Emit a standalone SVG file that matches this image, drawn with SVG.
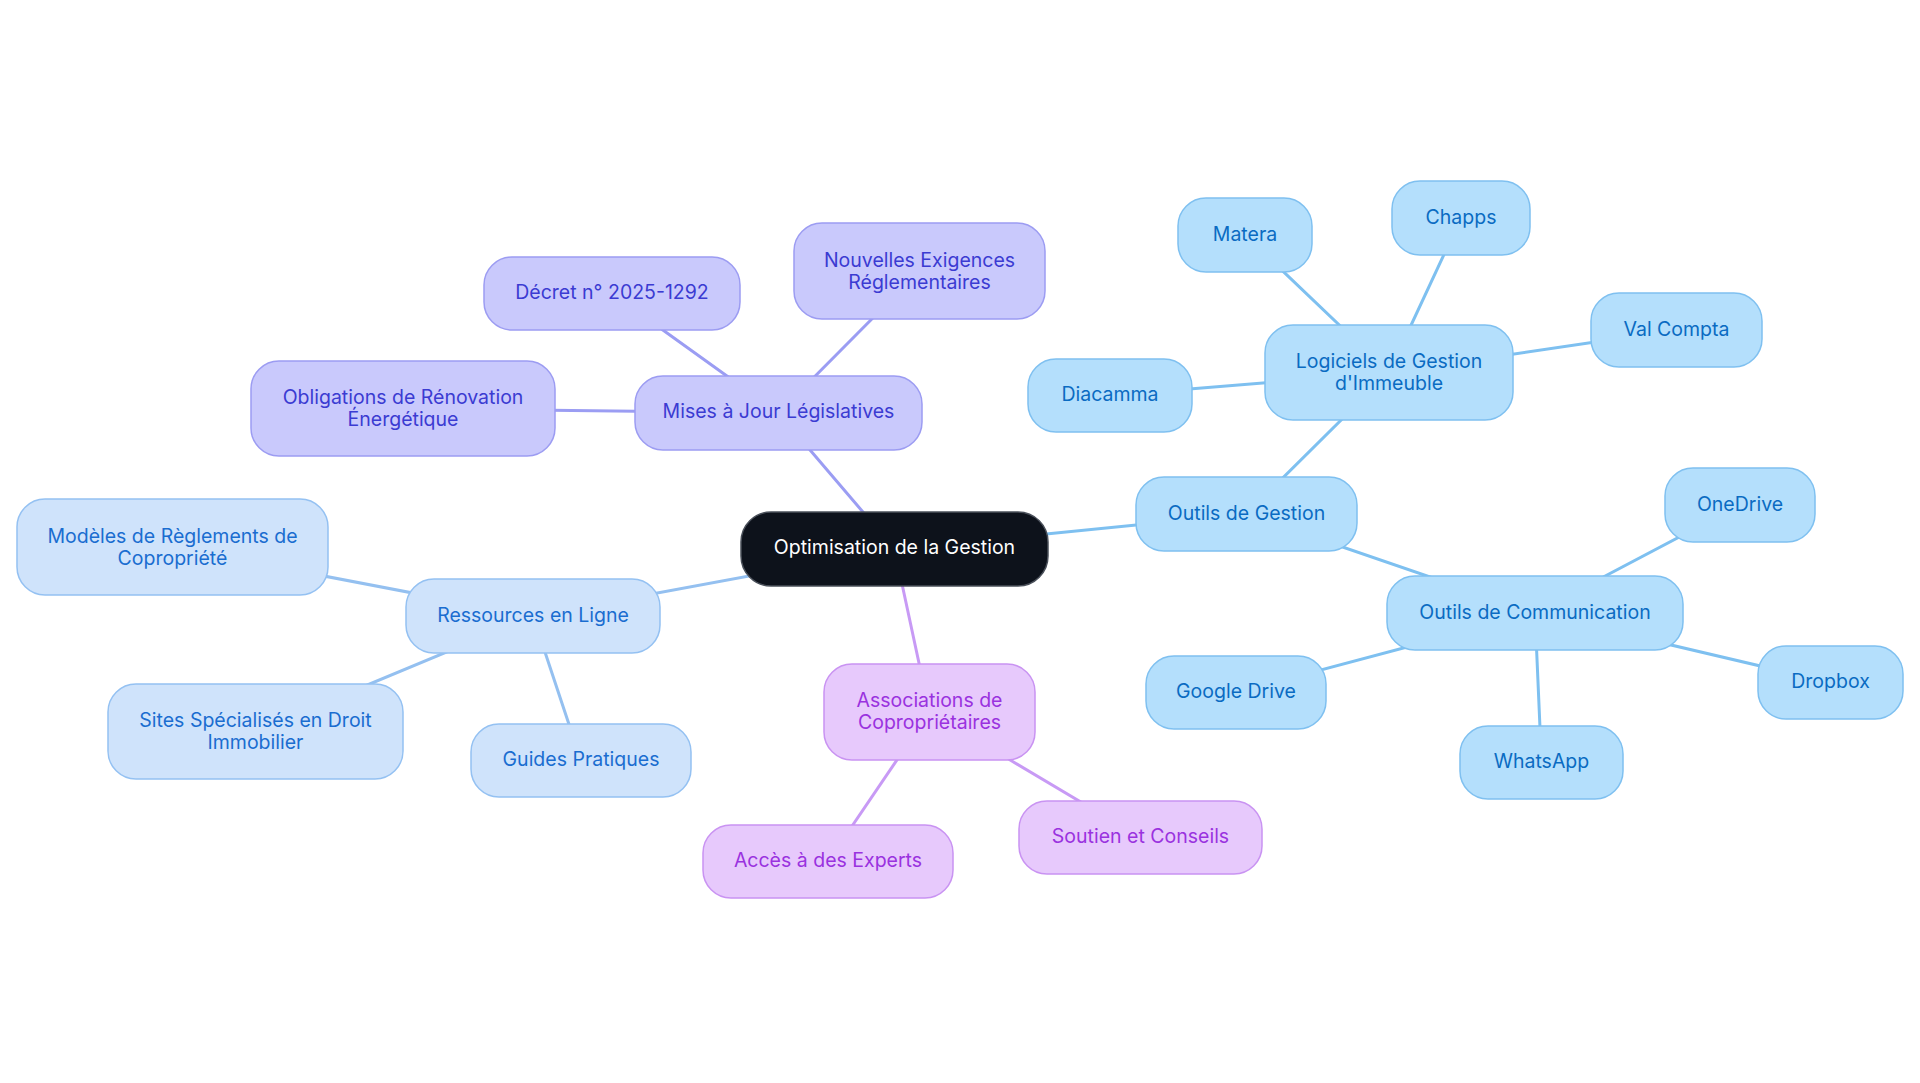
<svg xmlns="http://www.w3.org/2000/svg" width="1920" height="1083" viewBox="0 0 1920 1083">
<style>
text{font-family:Inter,"Noto Sans","Liberation Sans",sans-serif;font-size:19.5px;text-anchor:middle}
.c{fill:none;stroke-width:3;stroke-linecap:round}
.ci{stroke:#9b9df3}.cr{stroke:#94c0f0}.ca{stroke:#c89af5}.co{stroke:#7ec0f0}
rect{stroke-width:1.5}
.ni rect{fill:#c9c9fc;stroke:#9c9cf2}.ni text{fill:#3b3bd2}
.nr rect{fill:#cfe3fb;stroke:#94c1f2}.nr text{fill:#1a6dd0}
.na rect{fill:#e7c9fc;stroke:#c993f2}.na text{fill:#9a32df}
.no rect{fill:#b4dffc;stroke:#7fc0f0}.no text{fill:#0a6bc2}
.nc rect{fill:#0d121b;stroke:#4a505a}.nc text{fill:#ffffff}
</style>
<rect x="0" y="0" width="1920" height="1083" fill="#ffffff" stroke="none"/>
<g id="connectors">
<line class="c ci" x1="894.5" y1="549" x2="778.5" y2="413"/>
<line class="c ci" x1="778.5" y1="413" x2="612" y2="293.5"/>
<line class="c ci" x1="778.5" y1="413" x2="919.5" y2="271"/>
<line class="c ci" x1="778.5" y1="413" x2="403" y2="408.5"/>
<line class="c cr" x1="894.5" y1="549" x2="533" y2="616"/>
<line class="c cr" x1="533" y1="616" x2="172.5" y2="547"/>
<line class="c cr" x1="533" y1="616" x2="255.5" y2="731.5"/>
<line class="c cr" x1="533" y1="616" x2="581" y2="760.5"/>
<line class="c ca" x1="894.5" y1="549" x2="929.5" y2="712"/>
<line class="c ca" x1="929.5" y1="712" x2="828" y2="861.5"/>
<line class="c ca" x1="929.5" y1="712" x2="1140.5" y2="837.5"/>
<line class="c co" x1="894.5" y1="549" x2="1246.5" y2="514"/>
<line class="c co" x1="1246.5" y1="514" x2="1389" y2="372.5"/>
<line class="c co" x1="1389" y1="372.5" x2="1245" y2="235"/>
<line class="c co" x1="1389" y1="372.5" x2="1461" y2="218"/>
<line class="c co" x1="1389" y1="372.5" x2="1676.5" y2="330"/>
<line class="c co" x1="1389" y1="372.5" x2="1110" y2="395.5"/>
<line class="c co" x1="1246.5" y1="514" x2="1535" y2="613"/>
<line class="c co" x1="1535" y1="613" x2="1740" y2="505"/>
<line class="c co" x1="1535" y1="613" x2="1830.5" y2="682.5"/>
<line class="c co" x1="1535" y1="613" x2="1541.5" y2="762.5"/>
<line class="c co" x1="1535" y1="613" x2="1236" y2="692.5"/>
</g>
<g id="n-center" class="nc"><rect x="741" y="512" width="307" height="74" rx="30"/><text x="894.5" y="554">Optimisation de la Gestion</text></g>
<g id="n-mises" class="ni"><rect x="635" y="376" width="287" height="74" rx="28"/><text x="778.5" y="418">Mises à Jour Législatives</text></g>
<g id="n-decret" class="ni"><rect x="484" y="257" width="256" height="73" rx="28"/><text x="612" y="299">Décret n° 2025-1292</text></g>
<g id="n-nouvelles" class="ni"><rect x="794" y="223" width="251" height="96" rx="28"/><text x="919.5" y="266.5">Nouvelles Exigences</text><text x="919.5" y="288.5">Réglementaires</text></g>
<g id="n-obligations" class="ni"><rect x="251" y="361" width="304" height="95" rx="28"/><text x="403" y="404">Obligations de Rénovation</text><text x="403" y="426">Énergétique</text></g>
<g id="n-ressources" class="nr"><rect x="406" y="579" width="254" height="74" rx="28"/><text x="533" y="621.5">Ressources en Ligne</text></g>
<g id="n-modeles" class="nr"><rect x="17" y="499" width="311" height="96" rx="28"/><text x="172.5" y="542.5">Modèles de Règlements de</text><text x="172.5" y="564.5">Copropriété</text></g>
<g id="n-sites" class="nr"><rect x="108" y="684" width="295" height="95" rx="28"/><text x="255.5" y="727">Sites Spécialisés en Droit</text><text x="255.5" y="749">Immobilier</text></g>
<g id="n-guides" class="nr"><rect x="471" y="724" width="220" height="73" rx="28"/><text x="581" y="766">Guides Pratiques</text></g>
<g id="n-associations" class="na"><rect x="824" y="664" width="211" height="96" rx="28"/><text x="929.5" y="707">Associations de</text><text x="929.5" y="729">Copropriétaires</text></g>
<g id="n-acces" class="na"><rect x="703" y="825" width="250" height="73" rx="28"/><text x="828" y="867">Accès à des Experts</text></g>
<g id="n-soutien" class="na"><rect x="1019" y="801" width="243" height="73" rx="28"/><text x="1140.5" y="843">Soutien et Conseils</text></g>
<g id="n-outilsgestion" class="no"><rect x="1136" y="477" width="221" height="74" rx="28"/><text x="1246.5" y="519.5">Outils de Gestion</text></g>
<g id="n-logiciels" class="no"><rect x="1265" y="325" width="248" height="95" rx="28"/><text x="1389" y="368">Logiciels de Gestion</text><text x="1389" y="390">d'Immeuble</text></g>
<g id="n-matera" class="no"><rect x="1178" y="198" width="134" height="74" rx="28"/><text x="1245" y="240.5">Matera</text></g>
<g id="n-chapps" class="no"><rect x="1392" y="181" width="138" height="74" rx="28"/><text x="1461" y="223.5">Chapps</text></g>
<g id="n-valcompta" class="no"><rect x="1591" y="293" width="171" height="74" rx="28"/><text x="1676.5" y="335.5">Val Compta</text></g>
<g id="n-diacamma" class="no"><rect x="1028" y="359" width="164" height="73" rx="28"/><text x="1110" y="401">Diacamma</text></g>
<g id="n-communication" class="no"><rect x="1387" y="576" width="296" height="74" rx="28"/><text x="1535" y="618.5">Outils de Communication</text></g>
<g id="n-onedrive" class="no"><rect x="1665" y="468" width="150" height="74" rx="28"/><text x="1740" y="510.5">OneDrive</text></g>
<g id="n-dropbox" class="no"><rect x="1758" y="646" width="145" height="73" rx="28"/><text x="1830.5" y="688">Dropbox</text></g>
<g id="n-whatsapp" class="no"><rect x="1460" y="726" width="163" height="73" rx="28"/><text x="1541.5" y="768">WhatsApp</text></g>
<g id="n-gdrive" class="no"><rect x="1146" y="656" width="180" height="73" rx="28"/><text x="1236" y="698">Google Drive</text></g>
</svg>
